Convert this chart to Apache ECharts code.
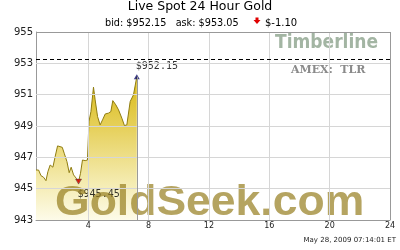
<!DOCTYPE html>
<html>
<head>
<meta charset="utf-8">
<script src="https://cdn.jsdelivr.net/npm/echarts@6/dist/echarts.min.js"></script>
<style>html,body{margin:0;padding:0;background:#fff}#c{width:400px;height:250px}</style>
</head>
<body>
<div id="c"></div>
<script>
// ---- data ----
var hours = [0.54,0.71,0.87,1.04,1.20,1.33,1.48,1.66,1.81,1.97,2.10,2.28,2.41,2.59,2.74,2.87,3.03,3.21,3.36,3.49,3.62,3.80,3.95,4.05,4.18,4.35,4.46,4.62,4.79,4.95,5.13,5.34,5.50,5.63,5.83,6.01,6.23,6.40,6.56,6.78,7.00,7.11,7.22];
var prices = [946.19,946.19,945.83,945.73,945.51,946.09,946.51,946.37,947.05,947.73,947.84,947.64,947.26,946.73,946.02,946.37,945.88,945.66,945.45,945.98,946.83,946.79,946.83,949.28,949.92,951.48,950.67,949.60,949.07,949.39,949.77,949.82,949.92,950.62,950.35,950.03,949.50,949.03,949.07,950.56,950.99,951.10,952.15];
var xTicks = [4, 8, 12, 16, 20, 24];
var yTicks = [943, 945, 947, 949, 951, 953, 955];
var prevClose = 953.25;
var lowPoint = [3.36, 945.45];
var highPoint = [7.22, 952.15];
var titleText = 'Live Spot 24 Hour Gold';
var bidText = 'bid: $952.15   ask: $953.05';
var changeText = '$-1.10';
var stampText = 'May 28, 2009 07:14:01 ET';

var xMin = 0.54, xMax = 24, yMin = 943, yMax = 955;
var lineData = hours.map(function (h, i) { return [h, prices[i]]; });
var gridMarks = xTicks.slice(0, -1).map(function (v) { return { xAxis: v }; })
  .concat(yTicks.slice(1, -1).map(function (v) { return { yAxis: v }; }));
var borderMarks = [{ xAxis: xMax }, { yAxis: yMax }];

var chart = echarts.init(document.getElementById('c'), null, { renderer: 'canvas' });
chart.setOption({
  animation: false,
  grid: { left: 36, right: 10, top: 32, bottom: 30 },
  xAxis: {
    type: 'value', min: xMin, max: xMax,
    axisLine: { show: true, lineStyle: { color: '#999', width: 1 } }, axisTick: { show: false }, splitLine: { show: false },
    axisLabel: { customValues: xTicks, fontFamily: 'DejaVu Sans', fontSize: 8, color: '#222', margin: 2 }
  },
  yAxis: {
    type: 'value', min: yMin, max: yMax,
    axisLine: { show: true, lineStyle: { color: '#999', width: 1 } }, axisTick: { show: false }, splitLine: { show: false },
    axisLabel: { customValues: yTicks, fontFamily: 'DejaVu Sans', fontSize: 10, color: '#222', margin: 3 }
  },
  graphic: [
    { type: 'text', left: 'center', top: 0, style: { text: titleText, font: '12.5px "DejaVu Sans"', fill: '#000' } },
    { type: 'text', left: 105, top: 18, style: { text: bidText, font: '9.7px "DejaVu Sans"', fill: '#000' } },
    { type: 'polygon', shape: { points: [[255.5,17.5],[258.5,17.5],[258.5,20],[260.5,20],[257,24],[253.5,20],[255.5,20]] }, style: { fill: '#e00000' } },
    { type: 'text', left: 265, top: 18, style: { text: changeText, font: '10px "DejaVu Sans"', fill: '#000' } },
    { type: 'text', right: 4, top: 237, style: { text: stampText, font: '7px "DejaVu Sans"', fill: '#222' } },
    { type: 'text', left: 275, top: 34, style: { text: 'Timberline', font: 'bold 19px "DejaVu Sans Condensed"', fill: '#a3b5a3' } },
    { type: 'text', left: 291, top: 65, style: { text: 'AMEX:  TLR', font: 'bold 11px "DejaVu Serif"', fill: '#8a8a8a' } },
    { type: 'text', x: 55, y: 182, scaleX: 1.06, z: 4, style: { x: 0, y: 0, align: 'left', verticalAlign: 'top', text: 'GoldSeek.com', font: 'bold 42px "Liberation Sans"', fill: 'rgba(150,125,30,0.7)' } }
  ],
  series: [
    {
      type: 'line', data: lineData, showSymbol: false,
      lineStyle: { color: '#8f7c10', width: 1 },
      areaStyle: {
        opacity: 1,
        color: new echarts.graphic.LinearGradient(0, 0, 0, 1, [
          { offset: 0, color: '#d9b914' }, { offset: 0.35, color: '#e6d05a' },
          { offset: 0.7, color: '#f3e9a8' }, { offset: 1, color: '#fdfbe9' }
        ])
      }
    },
    {
      type: 'scatter', z: 3,
      data: [
        { value: lowPoint, symbol: 'triangle', symbolRotate: 180, symbolSize: [6, 5], itemStyle: { color: '#e00000', borderColor: '#222', borderWidth: 0.5 },
          label: { show: true, formatter: '$' + lowPoint[1].toFixed(2), position: 'inside', align: 'left', verticalAlign: 'middle', offset: [-1, 13], fontFamily: 'DejaVu Sans Mono', fontSize: 10, color: '#000' } },
        { value: highPoint, symbol: 'triangle', symbolSize: [6, 5], itemStyle: { color: '#10106a' },
          label: { show: true, formatter: '$' + highPoint[1].toFixed(2), position: 'inside', align: 'left', verticalAlign: 'middle', offset: [-1, -10], fontFamily: 'DejaVu Sans Mono', fontSize: 10, color: '#000' } }
      ],
      markLine: {
        silent: true, symbol: 'none', label: { show: false },
        lineStyle: { color: '#d6d6d6', width: 1, type: 'solid' },
        data: gridMarks.concat(
          borderMarks.map(function (m) { return Object.assign({ lineStyle: { color: '#999', type: 'solid', width: 1 } }, m); }),
          [
            { yAxis: prevClose, lineStyle: { color: '#000', type: [4, 3], width: 1 } },
            [ { coord: [highPoint[0], yMin], lineStyle: { color: '#9a9a9a', type: 'solid' } }, { coord: highPoint } ]
          ])
      }
    }
  ]
});
</script>
</body>
</html>
